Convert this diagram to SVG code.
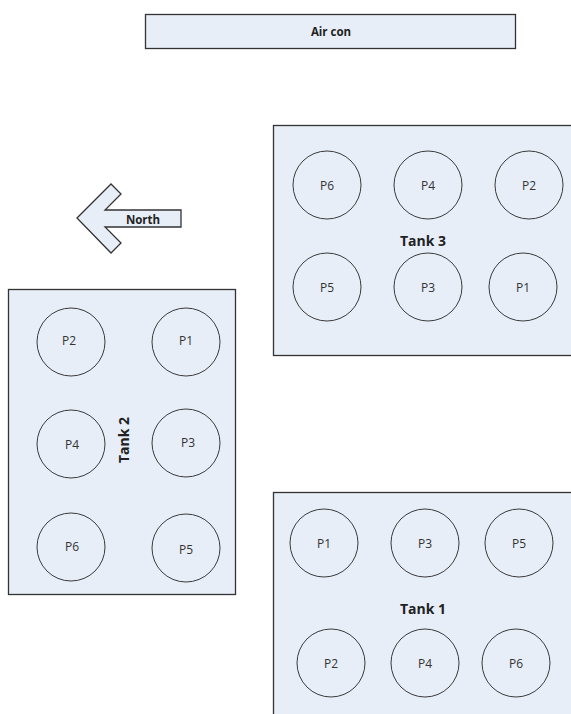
<svg xmlns="http://www.w3.org/2000/svg" width="571" height="714" viewBox="0 0 571 714">
<style>
.box{fill:#e8eef8;stroke:#333;stroke-width:1.3}
.pump{fill:#e8eef8;stroke:#3a3a3a;stroke-width:1}
.pl{font-family:"Open Sans","Liberation Sans",sans-serif;font-size:12px;fill:#333;text-anchor:middle;dominant-baseline:central}
.tl{font-family:"Open Sans","Liberation Sans",sans-serif;font-size:14px;font-weight:bold;fill:#222;text-anchor:middle;dominant-baseline:central}
.sl{font-family:"Open Sans","Liberation Sans",sans-serif;font-size:11.5px;font-weight:bold;fill:#222;text-anchor:middle;dominant-baseline:central}
</style>
<rect width="571" height="714" fill="#fff"/>
<g id="aircon">
<rect class="box" x="145.5" y="14.5" width="370" height="34"/>
<text class="sl" x="331" y="31.5">Air con</text>
</g>
<g id="north">
<polygon class="box" points="77,218 111,184 121,194 105,210 181,210 181,227 105,227 121,243 111,253"/>
<text class="sl" x="143" y="219">North</text>
</g>
<g id="tank3">
<rect class="box" x="273.5" y="125.5" width="300" height="230"/>
<text class="tl" x="423" y="240">Tank 3</text>
<circle class="pump" cx="327" cy="185" r="34"/><text class="pl" x="327" y="185">P6</text>
<circle class="pump" cx="428" cy="185" r="34"/><text class="pl" x="428" y="185">P4</text>
<circle class="pump" cx="529" cy="185" r="34"/><text class="pl" x="529" y="185">P2</text>
<circle class="pump" cx="327" cy="287" r="34"/><text class="pl" x="327" y="287">P5</text>
<circle class="pump" cx="428" cy="287" r="34"/><text class="pl" x="428" y="287">P3</text>
<circle class="pump" cx="523" cy="287" r="34"/><text class="pl" x="523" y="287">P1</text>
</g>
<g id="tank2">
<rect class="box" x="8.5" y="289.5" width="227" height="305"/>
<text class="tl" transform="translate(123,440) rotate(-90)" x="0" y="0">Tank 2</text>
<circle class="pump" cx="71" cy="342" r="34"/><text class="pl" x="69" y="340">P2</text>
<circle class="pump" cx="186" cy="342" r="34"/><text class="pl" x="186" y="340">P1</text>
<circle class="pump" cx="71" cy="444" r="34"/><text class="pl" x="72" y="444">P4</text>
<circle class="pump" cx="186" cy="443" r="34"/><text class="pl" x="188" y="442">P3</text>
<circle class="pump" cx="71" cy="547" r="34"/><text class="pl" x="72" y="546">P6</text>
<circle class="pump" cx="186" cy="548" r="34"/><text class="pl" x="186" y="549">P5</text>
</g>
<g id="tank1">
<rect class="box" x="273.5" y="492.5" width="300" height="230"/>
<text class="tl" x="423" y="608">Tank 1</text>
<circle class="pump" cx="324" cy="543" r="34"/><text class="pl" x="324" y="543">P1</text>
<circle class="pump" cx="425" cy="543" r="34"/><text class="pl" x="425" y="543">P3</text>
<circle class="pump" cx="519" cy="543" r="34"/><text class="pl" x="519" y="543">P5</text>
<circle class="pump" cx="331" cy="663" r="34"/><text class="pl" x="331" y="663">P2</text>
<circle class="pump" cx="425" cy="663" r="34"/><text class="pl" x="425" y="663">P4</text>
<circle class="pump" cx="516" cy="663" r="34"/><text class="pl" x="516" y="663">P6</text>
</g>
<g id="connectors"/>
</svg>
